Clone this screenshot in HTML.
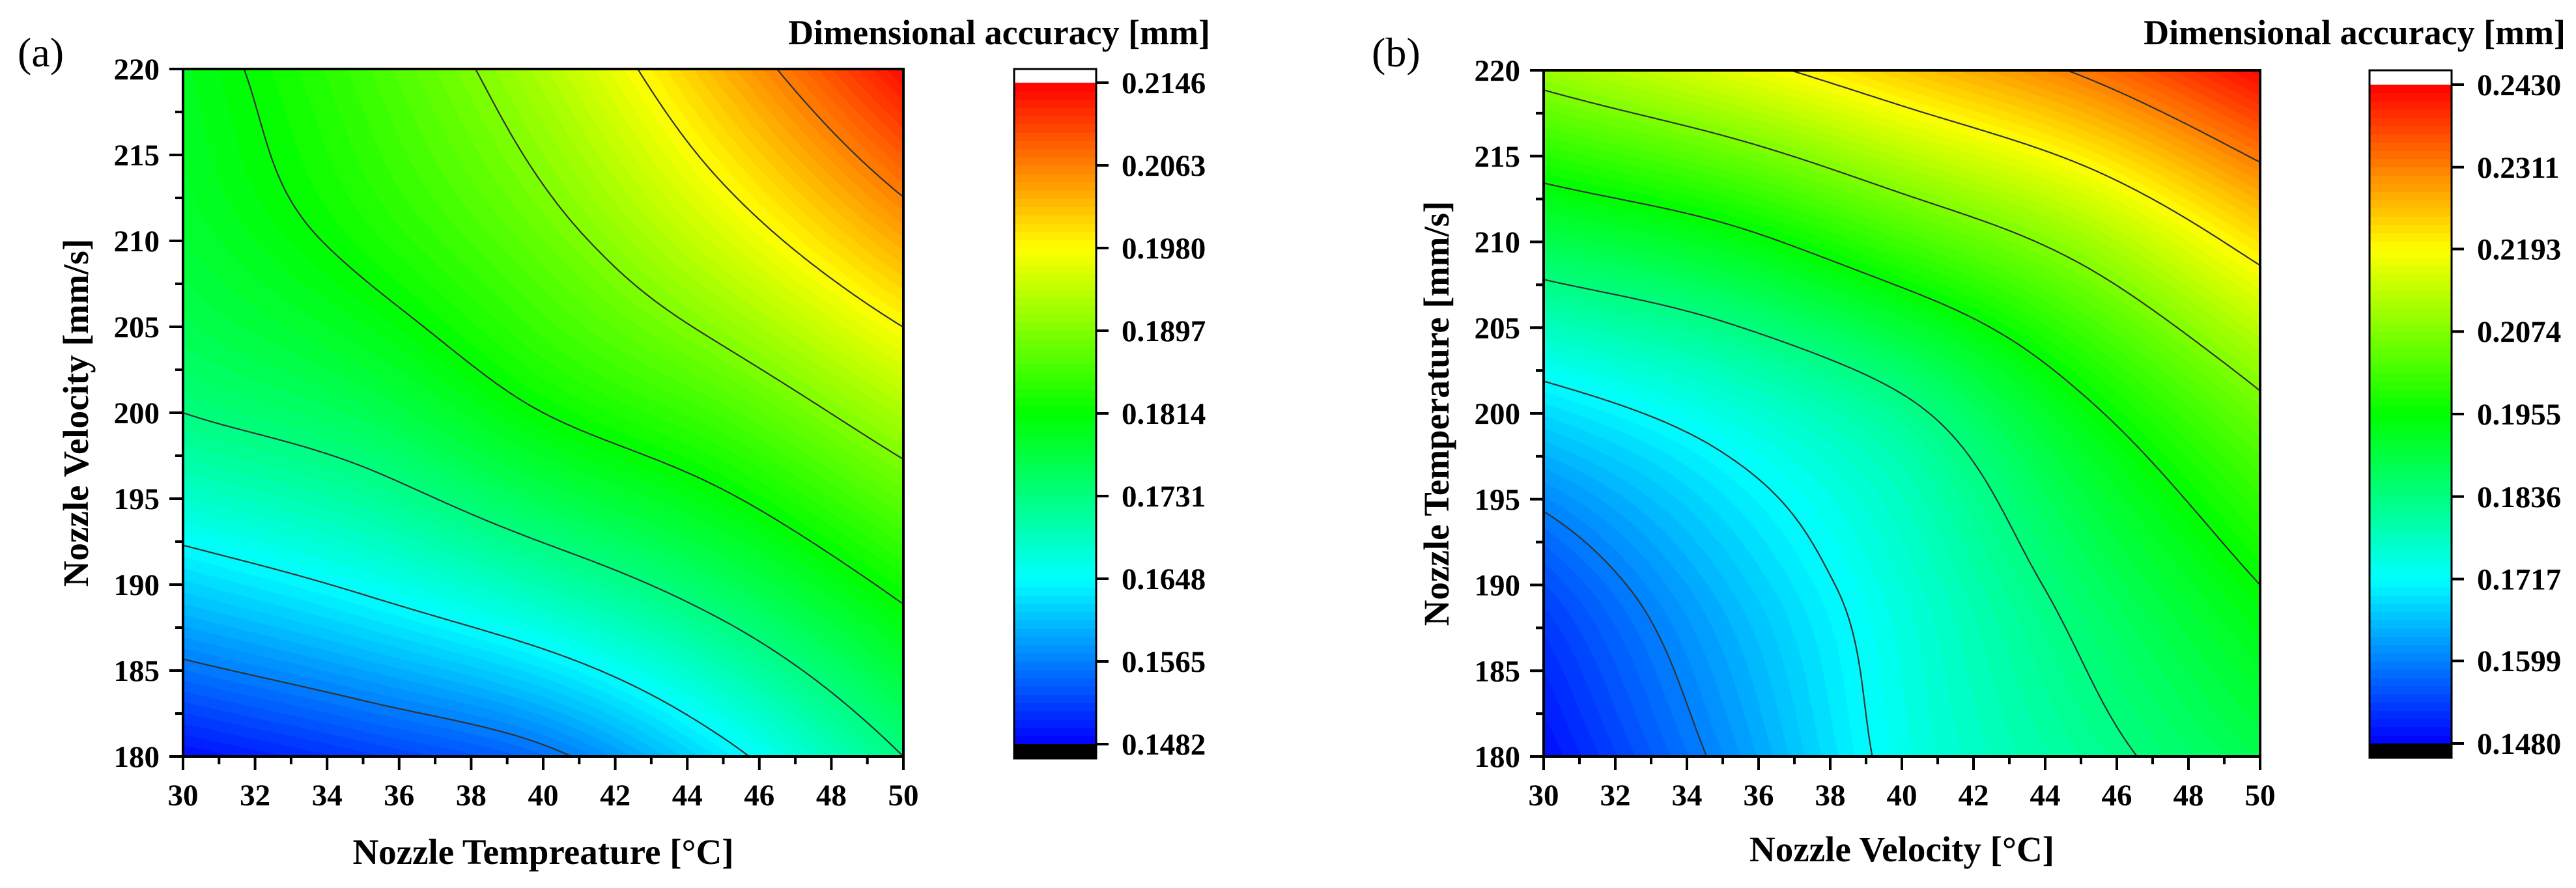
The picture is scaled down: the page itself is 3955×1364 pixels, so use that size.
<!DOCTYPE html>
<html><head><meta charset="utf-8">
<style>
html,body{margin:0;padding:0;background:#fff;}
#wrap{position:relative;width:3955px;height:1364px;overflow:hidden;background:#fff;}
canvas{position:absolute;}
svg{position:absolute;left:0;top:0;}
text{font-family:"Liberation Serif",serif;fill:#000;}
.b{font-weight:bold;}
</style></head>
<body>
<div id="wrap">
<canvas id="fillA"></canvas>
<canvas id="fillB"></canvas>
<svg id="svg" width="3955" height="1364">
  <text x="27" y="102" font-size="64">(a)</text>
  <text x="2106" y="102" font-size="64">(b)</text>
  <text class="b" x="834" y="1327" font-size="55" text-anchor="middle">Nozzle Tempreature [°C]</text>
  <text class="b" x="2920" y="1323" font-size="55" text-anchor="middle">Nozzle Velocity [°C]</text>
  <text class="b" transform="translate(135,634) rotate(-90)" font-size="55" text-anchor="middle">Nozzle Velocity [mm/s]</text>
  <text class="b" transform="translate(2224,635) rotate(-90)" font-size="55" text-anchor="middle">Nozzle Temperature [mm/s]</text>
  <text class="b" x="1858" y="68" font-size="54" text-anchor="end">Dimensional accuracy [mm]</text>
  <text class="b" x="3939" y="68" font-size="54" text-anchor="end">Dimensional accuracy [mm]</text>
</svg>
</div>
<script>
// ---- data ----
const aXgrid = [30, 35, 40, 45, 50];
const aYgrid = [180, 190, 200, 210, 220];
const aZrow180 = [0.1490, 0.1520, 0.1555, 0.1635, 0.1731];
const aZrow190 = [0.1620, 0.1655, 0.1700, 0.1755, 0.1825];
const aZrow200 = [0.1731, 0.1760, 0.1814, 0.1859, 0.1925];
const aZrow210 = [0.1780, 0.1825, 0.1880, 0.1953, 0.2036];
const aZrow220 = [0.1795, 0.1853, 0.1928, 0.2031, 0.2140];
const aColorTicks = ["0.1482","0.1565","0.1648","0.1731","0.1814","0.1897","0.1980","0.2063","0.2146"];
const aContourLevels = [0.1565, 0.1648, 0.1731, 0.1814, 0.1897, 0.1980, 0.2063];

const bXgrid = [30, 35, 40, 45, 50];
const bYgrid = [180, 190, 200, 210, 220];
const bZrow180 = [0.1490, 0.1610, 0.1735, 0.1813, 0.1885];
const bZrow190 = [0.1550, 0.1655, 0.1754, 0.1858, 0.1955];
const bZrow200 = [0.1684, 0.1745, 0.1820, 0.1940, 0.2056];
const bZrow210 = [0.1882, 0.1931, 0.2012, 0.2098, 0.2218];
const bZrow220 = [0.2099, 0.2165, 0.2241, 0.2318, 0.2425];
const bColorTicks = ["0.1480","0.1599","0.1717","0.1836","0.1955","0.2074","0.2193","0.2311","0.2430"];
const bContourLevels = [0.1599, 0.1717, 0.1836, 0.1955, 0.2074, 0.2193, 0.2311];

const xTickLabels = ["30","32","34","36","38","40","42","44","46","48","50"];
const yTickLabels = ["180","185","190","195","200","205","210","215","220"];
const bandCount = 80;

const NS = "http://www.w3.org/2000/svg";
const svg = document.getElementById("svg");

function cr(p0,p1,p2,p3,t){return 0.5*((2*p1)+(-p0+p2)*t+(2*p0-5*p1+4*p2-p3)*t*t+(-p0+3*p1-3*p2+p3)*t*t*t);}
function getZ(Z,i,j){
  const n=Z.length,m=Z[0].length;
  if(i<0) return 2*getZ(Z,0,j)-getZ(Z,1,j);
  if(i>=n) return 2*getZ(Z,n-1,j)-getZ(Z,n-2,j);
  if(j<0) return 2*getZ(Z,i,0)-getZ(Z,i,1);
  if(j>=m) return 2*getZ(Z,i,m-1)-getZ(Z,i,m-2);
  return Z[i][j];
}
function surf(X,Y,Z,x,y){
  const fu=(x-X[0])/(X[X.length-1]-X[0])*(X.length-1);
  const fv=(y-Y[0])/(Y[Y.length-1]-Y[0])*(Y.length-1);
  const j=Math.max(0,Math.min(Math.floor(fu),X.length-2));
  const i=Math.max(0,Math.min(Math.floor(fv),Y.length-2));
  const tu=fu-j,tv=fv-i,r=[];
  for(let k=-1;k<=2;k++) r.push(cr(getZ(Z,i+k,j-1),getZ(Z,i+k,j),getZ(Z,i+k,j+1),getZ(Z,i+k,j+2),tu));
  return cr(r[0],r[1],r[2],r[3],tv);
}
function cmap(t){
  t=Math.max(0,Math.min(1,t));
  if(t<0.25) return [0,Math.round(255*t/0.25),255];
  if(t<0.5) return [0,255,Math.round(255*(1-(t-0.25)/0.25))];
  if(t<0.75) return [Math.round(255*(t-0.5)/0.25),255,0];
  return [255,Math.round(255*(1-(t-0.75)/0.25)),0];
}
function bandColor(z,zmin,zmax){
  let k=Math.floor((z-zmin)/(zmax-zmin)*bandCount);
  k=Math.max(0,Math.min(bandCount-1,k));
  return cmap((k+0.5)/bandCount);
}
function mk(tag,attrs,parent){
  const e=document.createElementNS(NS,tag);
  for(const k in attrs) e.setAttribute(k,attrs[k]);
  (parent||svg).appendChild(e);
  return e;
}

function drawPanel(P){
  const X=P.X,Y=P.Y,Z=P.Z;
  const xmin=X[0],xmax=X[X.length-1],ymin=Y[0],ymax=Y[Y.length-1];
  const zmin=parseFloat(P.cticks[0]),zmax=parseFloat(P.cticks[P.cticks.length-1]);
  const w=P.R-P.L,h=P.B-P.T;
  const sx=v=>P.L+(v-xmin)/(xmax-xmin)*w;
  const sy=v=>P.B-(v-ymin)/(ymax-ymin)*h;
  // fill
  const cv=document.getElementById(P.canvas);
  cv.width=w;cv.height=h;cv.style.left=P.L+"px";cv.style.top=P.T+"px";
  const ctx=cv.getContext("2d");const img=ctx.createImageData(w,h);
  for(let py=0;py<h;py++){
    const y=ymax-(py+0.5)/h*(ymax-ymin);
    for(let px=0;px<w;px++){
      const x=xmin+(px+0.5)/w*(xmax-xmin);
      const c=bandColor(surf(X,Y,Z,x,y),zmin,zmax);
      const o=(py*w+px)*4;img.data[o]=c[0];img.data[o+1]=c[1];img.data[o+2]=c[2];img.data[o+3]=255;
    }
  }
  ctx.putImageData(img,0,0);
  // contour lines (marching squares)
  const N=220,G=[];
  for(let i=0;i<=N;i++){G.push([]);for(let j=0;j<=N;j++){G[i].push(surf(X,Y,Z,xmin+j/N*(xmax-xmin),ymin+i/N*(ymax-ymin)));}}
  const gx=j=>sx(xmin+j/N*(xmax-xmin)), gy=i=>sy(ymin+i/N*(ymax-ymin));
  P.levels.forEach(lv=>{
    let d="";
    for(let i=0;i<N;i++)for(let j=0;j<N;j++){
      const c=[[i,j],[i,j+1],[i+1,j+1],[i+1,j]];
      const pts=[];
      for(let e=0;e<4;e++){
        const a=c[e],b=c[(e+1)%4];
        const za=G[a[0]][a[1]],zb=G[b[0]][b[1]];
        if((za<lv)!==(zb<lv)){
          const t=(lv-za)/(zb-za);
          const ii=a[0]+(b[0]-a[0])*t,jj=a[1]+(b[1]-a[1])*t;
          pts.push([sx(xmin+jj/N*(xmax-xmin)),sy(ymin+ii/N*(ymax-ymin))]);
        }
      }
      if(pts.length>=2) d+="M"+pts[0][0].toFixed(1)+" "+pts[0][1].toFixed(1)+"L"+pts[1][0].toFixed(1)+" "+pts[1][1].toFixed(1);
      if(pts.length===4) d+="M"+pts[2][0].toFixed(1)+" "+pts[2][1].toFixed(1)+"L"+pts[3][0].toFixed(1)+" "+pts[3][1].toFixed(1);
    }
    const p=mk("path",{d:d,fill:"none",stroke:"#333","stroke-width":"2.2","stroke-linecap":"round"});
    
    
  });
  // frame
  const fr=mk("rect",{x:P.L,y:P.T,width:w,height:h,fill:"none",stroke:"#000","stroke-width":"4"});
  
  
  // x ticks
  xTickLabels.forEach((lab,k)=>{
    const v=parseFloat(lab),x=sx(v);
    const t=mk("line",{x1:x,x2:x,y1:P.B,y2:P.B+21,stroke:"#000","stroke-width":"4"});
    
    
    if(k<xTickLabels.length-1){
      const xm=sx(v+1);
      const m=mk("line",{x1:xm,x2:xm,y1:P.B,y2:P.B+12,stroke:"#000","stroke-width":"4"});
      
      
    }
    const tx=mk("text",{x:x,y:1237,"font-size":"47","text-anchor":"middle","class":"b"});
    tx.textContent=lab;
    
    
  });
  // y ticks
  yTickLabels.forEach((lab,k)=>{
    const v=parseFloat(lab),y=sy(v);
    const t=mk("line",{x1:P.L-21,x2:P.L,y1:y,y2:y,stroke:"#000","stroke-width":"4"});
    
    
    if(k<yTickLabels.length-1){
      const ym=sy(v+2.5);
      const m=mk("line",{x1:P.L-12,x2:P.L,y1:ym,y2:ym,stroke:"#000","stroke-width":"4"});
      
      
    }
    const tx=mk("text",{x:P.L-36,y:y+16,"font-size":"47","text-anchor":"end","class":"b"});
    tx.textContent=lab;
    
    
  });
  // colorbar
  const cw=P.cbR-P.cbL;
  const top=mk("rect",{x:P.cbL,y:P.cbT,width:cw,height:P.cbTop-P.cbT,fill:"#fff"});
  
  
  const bh=(P.cbBot-P.cbTop)/bandCount;
  for(let k=0;k<bandCount;k++){
    const c=cmap((k+0.5)/bandCount);
    const r=mk("rect",{x:P.cbL,y:(P.cbBot-(k+1)*bh).toFixed(2),width:cw,height:(bh+0.6).toFixed(2),fill:"rgb("+c.join(",")+")"});
    
    
  }
  const bot=mk("rect",{x:P.cbL,y:P.cbBot,width:cw,height:P.cbB-P.cbBot,fill:"#000"});
  
  
  const cf=mk("rect",{x:P.cbL,y:P.cbT,width:cw,height:P.cbB-P.cbT,fill:"none",stroke:"#000","stroke-width":"3"});
  
  
  P.cticks.forEach(lab=>{
    const v=parseFloat(lab);
    const y=P.cbBot-(v-zmin)/(zmax-zmin)*(P.cbBot-P.cbTop);
    const t=mk("line",{x1:P.cbR,x2:P.cbR+19,y1:y,y2:y,stroke:"#000","stroke-width":"4"});
    
    
    const tx=mk("text",{x:P.cbR+39,y:y+16,"font-size":"47","class":"b"});
    tx.textContent=lab;
    
    
  });
}

drawPanel({id:"a",canvas:"fillA",X:aXgrid,Y:aYgrid,Z:[aZrow180,aZrow190,aZrow200,aZrow210,aZrow220],
  cticks:aColorTicks,levels:aContourLevels,L:281,T:106,R:1387,B:1162,cbL:1557,cbR:1683,cbT:106,cbTop:127,cbBot:1143,cbB:1165});
drawPanel({id:"b",canvas:"fillB",X:bXgrid,Y:bYgrid,Z:[bZrow180,bZrow190,bZrow200,bZrow210,bZrow220],
  cticks:bColorTicks,levels:bContourLevels,L:2370,T:108,R:3470,B:1162,cbL:3638,cbR:3764,cbT:108,cbTop:130,cbBot:1142,cbB:1164});
</script>
</body></html>
